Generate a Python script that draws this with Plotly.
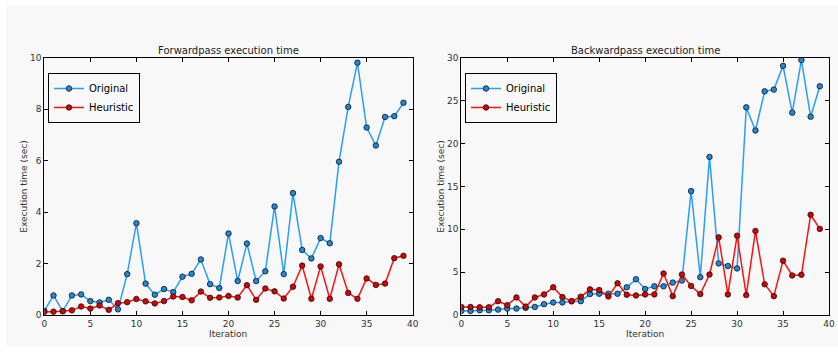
import plotly.graph_objects as go

iterations = list(range(40))

fwd_original = [0.16, 0.76, 0.15, 0.76, 0.80, 0.54, 0.49, 0.59, 0.22, 1.59,
                3.57, 1.22, 0.79, 1.01, 0.89, 1.49, 1.60, 2.16, 1.20, 1.05,
                3.17, 1.32, 2.78, 1.32, 1.70, 4.22, 1.59, 4.74, 2.53, 2.20,
                2.99, 2.79, 5.96, 8.09, 9.81, 7.29, 6.59, 7.70, 7.73, 8.25]
fwd_heuristic = [0.12, 0.13, 0.15, 0.18, 0.33, 0.25, 0.37, 0.20, 0.46, 0.50,
                 0.62, 0.53, 0.45, 0.54, 0.72, 0.70, 0.57, 0.91, 0.67, 0.68,
                 0.74, 0.68, 1.16, 0.59, 1.03, 0.92, 0.64, 1.10, 1.92, 0.63,
                 1.89, 0.63, 1.97, 0.86, 0.63, 1.42, 1.17, 1.22, 2.21, 2.30]
bwd_original = [0.47, 0.47, 0.55, 0.55, 0.63, 0.75, 0.75, 0.83, 0.94, 1.26,
                1.46, 1.46, 1.61, 1.61, 2.44, 2.48, 2.48, 2.48, 3.23, 4.17,
                3.03, 3.35, 3.35, 3.78, 4.02, 14.45, 4.41, 18.44, 6.02, 5.71,
                5.43, 24.22, 21.52, 26.09, 26.29, 29.06, 23.60, 29.73, 23.13, 26.68]
bwd_heuristic = [0.94, 0.94, 0.90, 0.90, 1.61, 1.14, 2.05, 0.98, 2.05, 2.40,
                 3.23, 2.09, 1.61, 2.13, 2.99, 2.91, 2.17, 3.70, 2.36, 2.28,
                 2.40, 2.40, 4.84, 2.20, 4.72, 3.39, 2.44, 4.72, 9.06, 2.40,
                 9.25, 2.32, 9.80, 3.58, 2.20, 6.34, 4.61, 4.69, 11.69, 10.04]

titles = ["Forwardpass execution time", "Backwardpass execution time"]
x_title = "Iteration"
y_title = "Execution time (sec)"
x_ticks = [0, 5, 10, 15, 20, 25, 30, 35, 40]
fwd_ticks = [0, 2, 4, 6, 8, 10]
bwd_ticks = [0, 5, 10, 15, 20, 25, 30]

W, H = 838, 353
BG = "#f8f8f8"
BLUE_LINE = "#2a9df4"
BLUE_MARK = "#1f88d8"
RED_LINE = "#ff1010"
RED_MARK = "#d80000"
FONT = "DejaVu Sans"

fig = go.Figure()

def add_series(x, y, name, line_c, mark_c, xa, ya, legend):
    fig.add_trace(go.Scatter(
        x=x, y=y, name=name, mode="lines+markers",
        line=dict(color=line_c, width=1.5),
        marker=dict(color=mark_c, size=5.5, line=dict(color="#111111", width=0.8)),
        xaxis=xa, yaxis=ya, legend=legend,
    ))

add_series(iterations, fwd_original, "Original", BLUE_LINE, BLUE_MARK, "x", "y", "legend")
add_series(iterations, fwd_heuristic, "Heuristic", RED_LINE, RED_MARK, "x", "y", "legend")
add_series(iterations, bwd_original, "Original", BLUE_LINE, BLUE_MARK, "x2", "y2", "legend2")
add_series(iterations, bwd_heuristic, "Heuristic", RED_LINE, RED_MARK, "x2", "y2", "legend2")

yd = [(H - 315) / H, (H - 57.8) / H]
xd1 = [44.3 / W, 412.7 / W]
xd2 = [461.3 / W, 829.0 / W]

axis_common = dict(
    showgrid=False, zeroline=False, showline=True, linecolor="black", linewidth=1,
    mirror="allticks", ticks="inside", ticklen=4, tickcolor="black", tickwidth=1,
    tickfont=dict(family=FONT, size=9, color="#333333"), automargin=False,
)

legend_common = dict(
    xanchor="left", yanchor="top", bgcolor=BG, bordercolor="black", borderwidth=1,
    font=dict(family=FONT, size=10, color="black"), itemwidth=30, tracegroupgap=0,
)

annotations = []
for dom, t in ((xd1, titles[0]), (xd2, titles[1])):
    annotations.append(dict(
        text=t, x=(dom[0] + dom[1]) / 2, y=yd[1], xref="paper", yref="paper",
        xanchor="center", yanchor="bottom", showarrow=False,
        font=dict(family=FONT, size=10, color="#222222")))
    annotations.append(dict(
        text=x_title, x=(dom[0] + dom[1]) / 2, y=yd[0], xref="paper", yref="paper",
        xanchor="center", yanchor="top", yshift=-12, showarrow=False,
        font=dict(family=FONT, size=9, color="#333333")))
    annotations.append(dict(
        text=y_title, x=dom[0], y=(yd[0] + yd[1]) / 2, xref="paper", yref="paper",
        xanchor="center", yanchor="middle", xshift=-20, textangle=-90, showarrow=False,
        font=dict(family=FONT, size=9, color="#333333")))

fig.update_layout(
    width=W, height=H,
    margin=dict(l=0, r=0, t=0, b=0),
    paper_bgcolor="white", plot_bgcolor=BG,
    font=dict(family=FONT, color="#222222"),
    showlegend=True,
    xaxis=dict(domain=xd1, range=[0, 40], tickvals=x_ticks, anchor="y", **axis_common),
    yaxis=dict(domain=yd, range=[0, 10], tickvals=fwd_ticks, anchor="x", **axis_common),
    xaxis2=dict(domain=xd2, range=[0, 40], tickvals=x_ticks, anchor="y2", **axis_common),
    yaxis2=dict(domain=yd, range=[0, 30], tickvals=bwd_ticks, anchor="x2", **axis_common),
    legend=dict(x=48 / W, y=(H - 73) / H, **legend_common),
    legend2=dict(x=465 / W, y=(H - 73) / H, **legend_common),
    shapes=[dict(type="rect", xref="paper", yref="paper",
                 x0=6 / W, x1=1, y0=(H - 346) / H, y1=(H - 5) / H,
                 fillcolor=BG, line=dict(width=0), layer="below")],
    annotations=annotations,
)

fig.write_html("out.html", config={"displayModeBar": False},
               post_script="document.body.style.margin='0px';")
